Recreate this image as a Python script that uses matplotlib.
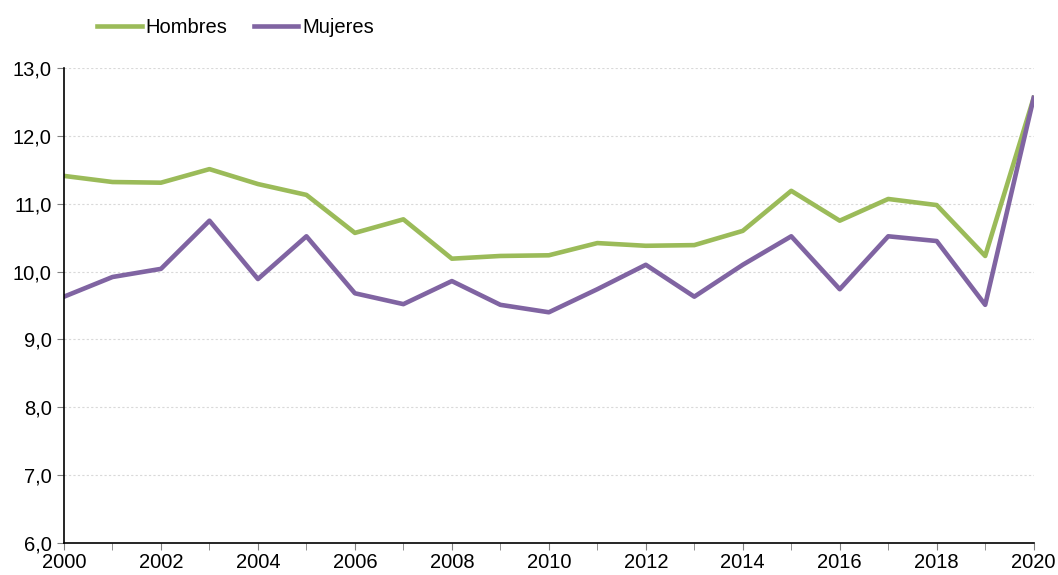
import matplotlib.pyplot as plt
from matplotlib.ticker import FuncFormatter, MultipleLocator

years = list(range(2000, 2021))
hombres = [11.41, 11.32, 11.31, 11.51, 11.29, 11.13, 10.57, 10.77, 10.19, 10.23, 10.24,
           10.42, 10.38, 10.39, 10.60, 11.19, 10.75, 11.07, 10.98, 10.23, 12.56]
mujeres = [9.63, 9.92, 10.04, 10.75, 9.89, 10.52, 9.68, 9.52, 9.86, 9.51, 9.40,
           9.74, 10.10, 9.63, 10.10, 10.52, 9.74, 10.52, 10.45, 9.51, 12.56]

plt.rcParams['font.family'] = ['Liberation Sans', 'DejaVu Sans']

fig = plt.figure(figsize=(10.58, 5.75), dpi=100)
ax = fig.add_axes([0.0605, 0.0557, 0.9165, 0.826])

ax.plot(years, hombres, color='#9BBB59', lw=3.3, label='Hombres', solid_joinstyle='round')
ax.plot(years, mujeres, color='#8064A2', lw=3.3, label='Mujeres', solid_joinstyle='round')

ax.set_xlim(2000, 2020)
ax.set_ylim(6, 13)
ax.xaxis.set_major_locator(MultipleLocator(2))
ax.xaxis.set_minor_locator(MultipleLocator(1))
ax.yaxis.set_major_locator(MultipleLocator(1))
ax.yaxis.set_major_formatter(FuncFormatter(lambda v, p: f'{v:.1f}'.replace('.', ',')))
ax.grid(axis='y', color='#d9d9d9', ls=(0, (2, 2)), lw=0.8)
ax.set_axisbelow(True)

for s in ['top', 'right']:
    ax.spines[s].set_visible(False)
ax.spines['left'].set_linewidth(1.2)
ax.spines['bottom'].set_linewidth(1.2)
ax.tick_params(axis='y', which='major', length=5, color='#808080', labelsize=14.5, pad=4)
ax.tick_params(axis='x', which='both', length=5, color='#808080', labelsize=14.5, pad=2)

fig.legend(loc='upper left', bbox_to_anchor=(0.075, 1.0), ncol=2, frameon=False,
           fontsize=14.5, handlelength=2.2, handletextpad=0.2, columnspacing=1.3)

fig.savefig('out.png', dpi=100)
